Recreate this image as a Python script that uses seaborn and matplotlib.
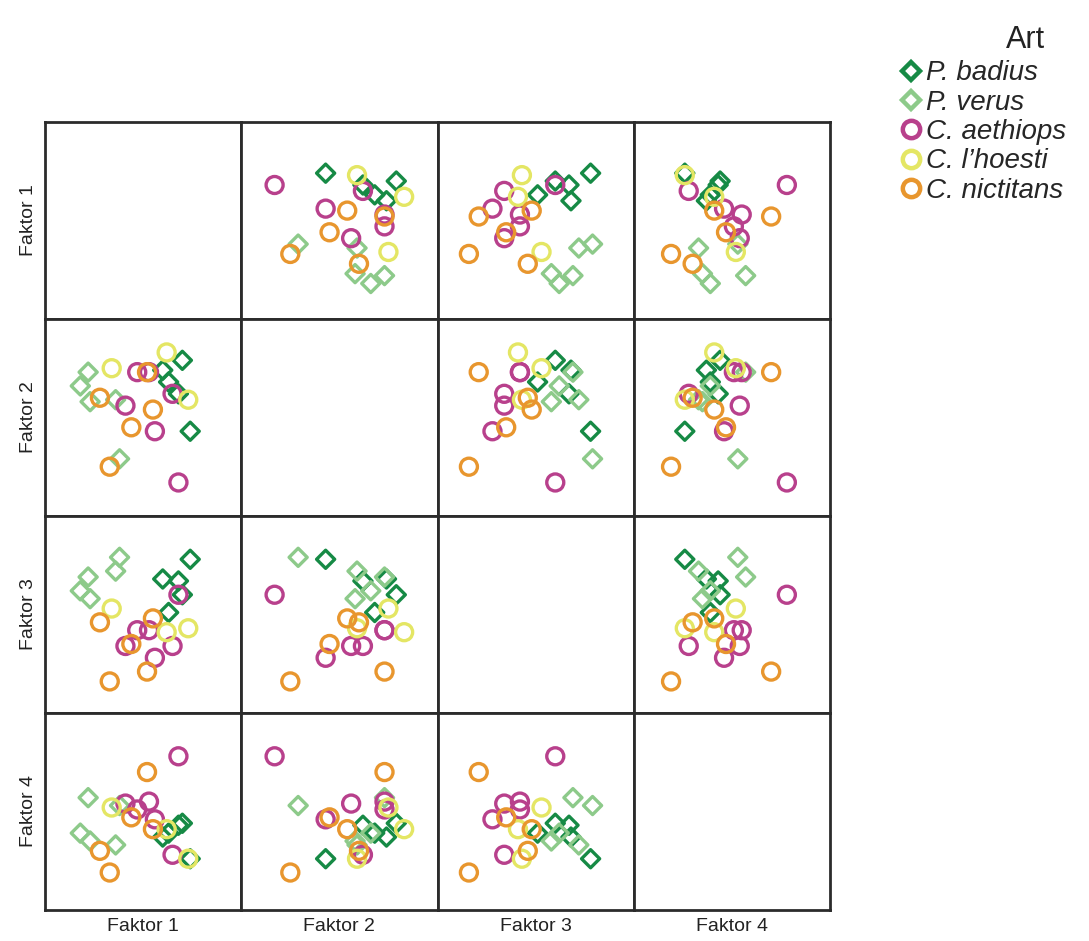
import matplotlib.pyplot as plt
import matplotlib.lines as mlines
import pandas as pd
import seaborn as sns

# factor scores (scaled to the panel frame, 0..1)
species = ["P. badius", "P. verus", "C. aethiops", "C. l\u2019hoesti", "C. nictitans"]
counts = [5, 5, 6, 3, 5]
colors = ["#168a45", "#8dca8a", "#b8408c", "#e4e664", "#e8962e"]
markers = ["D", "D", "o", "o", "o"]

faktor1 = [0.74, 0.70, 0.68, 0.63, 0.60,
           0.38, 0.36, 0.23, 0.18, 0.22,
           0.68, 0.65, 0.56, 0.41, 0.47, 0.53,
           0.73, 0.62, 0.34,
           0.55, 0.44, 0.33, 0.28, 0.52]
faktor2 = [0.43, 0.79, 0.62, 0.68, 0.74,
           0.29, 0.59, 0.58, 0.66, 0.73,
           0.17, 0.62, 0.43, 0.56, 0.73, 0.73,
           0.59, 0.83, 0.75,
           0.54, 0.45, 0.25, 0.60, 0.73]
faktor3 = [0.78, 0.60, 0.67, 0.51, 0.68,
           0.79, 0.72, 0.58, 0.62, 0.69,
           0.60, 0.34, 0.28, 0.34, 0.42, 0.42,
           0.43, 0.41, 0.53,
           0.48, 0.35, 0.16, 0.46, 0.21]
faktor4 = [0.26, 0.44, 0.43, 0.39, 0.37,
           0.53, 0.33, 0.35, 0.39, 0.57,
           0.78, 0.28, 0.46, 0.54, 0.51, 0.55,
           0.26, 0.41, 0.52,
           0.41, 0.47, 0.19, 0.30, 0.70]

art = []
for name, n in zip(species, counts):
    art += [name] * n

df = pd.DataFrame({"Faktor 1": faktor1, "Faktor 2": faktor2,
                   "Faktor 3": faktor3, "Faktor 4": faktor4, "Art": art})

sns.set_style("white")
plt.rcParams["font.family"] = ["Liberation Sans", "DejaVu Sans"]
plt.rcParams["axes.labelsize"] = 14
plt.rcParams["axes.labelcolor"] = "#222222"
plt.rcParams["axes.edgecolor"] = "#2b2b2b"
plt.rcParams["axes.linewidth"] = 2.0


def hollow(x, y, color=None, marker="o", label=None, **kws):
    size = 85 if marker == "D" else 150
    plt.scatter(x, y, s=size, marker=marker, facecolors="none",
                edgecolors=[color], linewidths=2.4)


g = sns.PairGrid(df, hue="Art", hue_order=species, palette=colors,
                 hue_kws={"marker": markers}, despine=False, height=2)
g.map_offdiag(hollow)
g.set(xticks=[], yticks=[], xlim=(0, 1), ylim=(0, 1))

for ax in g.axes[:, 0]:
    ax.yaxis.labelpad = 6
for ax in g.axes[-1, :]:
    ax.xaxis.labelpad = 6

fig = g.figure
fig.set_size_inches(10.89, 9.41)
fig.subplots_adjust(left=0.0413, right=0.7622, bottom=0.033, top=0.8704,
                    wspace=0, hspace=0)

handles = [mlines.Line2D([], [], marker=m, linestyle="none", markerfacecolor="none",
                         markeredgecolor=c, markersize=9.5 if m == "D" else 12.5,
                         markeredgewidth=3.2)
           for m, c in zip(markers, colors)]
fig.legend(handles, species, loc="upper left", bbox_to_anchor=(0.8237, 0.936),
           frameon=False, prop={"style": "italic", "size": 20},
           handlelength=1.0, handletextpad=0.06, labelspacing=0.12,
           borderpad=0, borderaxespad=0)
fig.text(1025 / 1089, 1 - 40 / 941, "Art", ha="center", va="center", fontsize=22,
         color="#222222")

fig.savefig("out.png", dpi=100)
